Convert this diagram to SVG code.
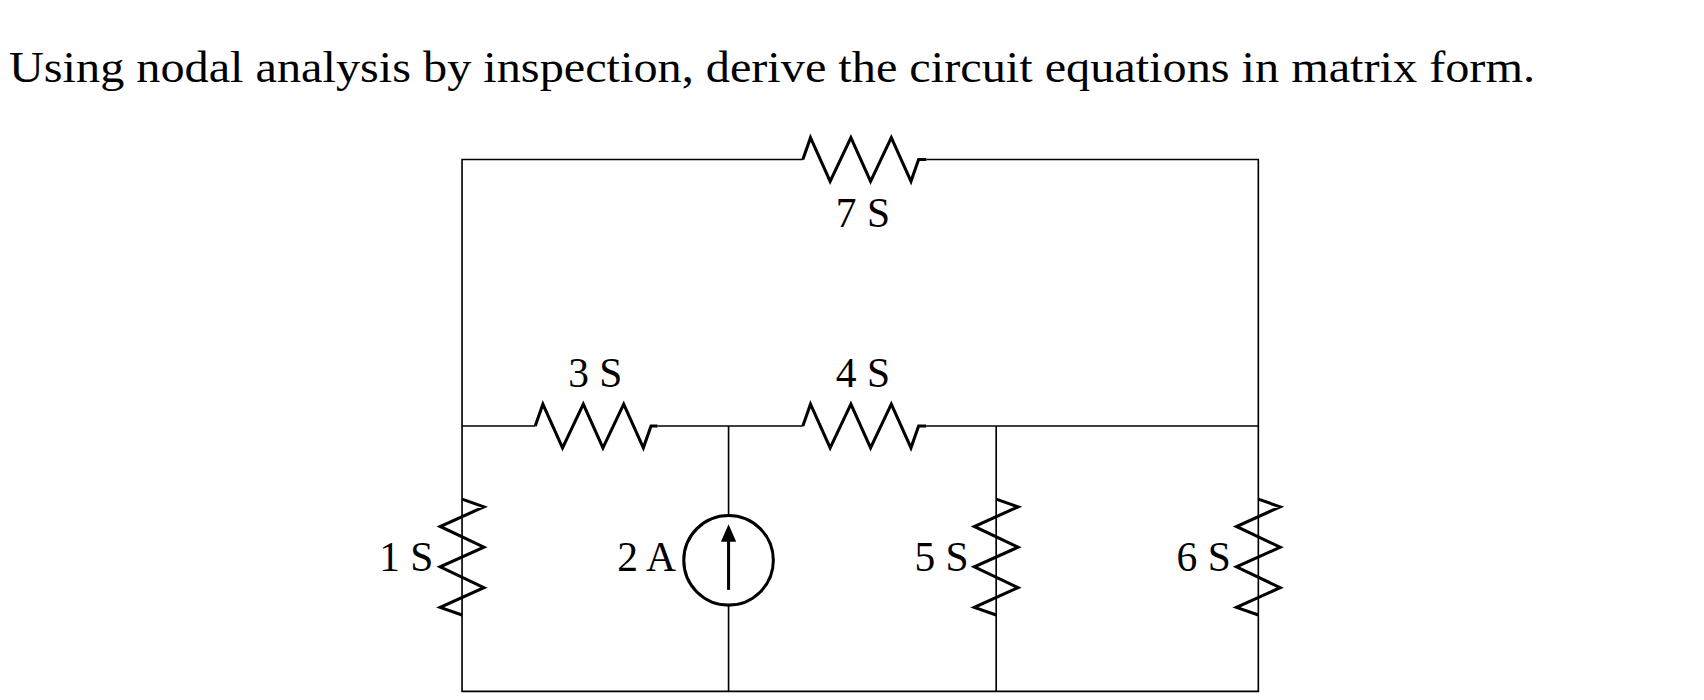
<svg xmlns="http://www.w3.org/2000/svg" width="1704" height="700" viewBox="0 0 1704 700">
<style>
.w{fill:none;stroke:#000;stroke-width:1.5}
.r{fill:none;stroke:#000;stroke-width:2.8;stroke-linejoin:miter}
text{font-family:"Liberation Serif",serif;fill:#000}
.l{font-size:38px;text-anchor:middle}
</style>
<rect width="1704" height="700" fill="#fff"/>
<text x="9" y="82" font-size="45" textLength="1526" lengthAdjust="spacingAndGlyphs">Using nodal analysis by inspection, derive the circuit equations in matrix form.</text>
<g transform="scale(1.0923)">
<g id="connectors">
<path class="w" d="M735 146H423V633H1152V146H848"/>
<path class="w" d="M423 390H490M602 390H735M848 390H1152M667 390V472M667 554V633M912 390V633"/>
</g>
<g id="r7"><path class="r" d="M735 146L742 126L760 166L779 126L797 166L816 126L834 166L841 146H848"/><text class="l" x="790" y="208">7 S</text></g>
<g id="r3"><path class="r" d="M490 390L497 370L515 410L534 370L552 410L571 370L589 410L596 390H602"/><text class="l" x="545" y="354">3 S</text></g>
<g id="r4"><path class="r" d="M735 390L742 370L760 410L779 370L797 410L816 370L834 410L841 390H848"/><text class="l" x="790" y="354">4 S</text></g>
<g id="r1"><path class="r" d="M423 457L443 464L403 482L443 501L403 519L443 538L403 556L423 563"/><text class="l" x="372" y="523">1 S</text></g>
<g id="r5"><path class="r" d="M912 457L932 464L892 482L932 501L892 519L932 538L892 556L912 563"/><text class="l" x="862" y="523">5 S</text></g>
<g id="r6"><path class="r" d="M1152 457L1172 464L1132 482L1172 501L1132 519L1172 538L1132 556L1152 563"/><text class="l" x="1102" y="523">6 S</text></g>
<g id="src"><circle cx="667" cy="513" r="41" fill="#fff" stroke="#000" stroke-width="2.8"/><path d="M667 540V494" stroke="#000" stroke-width="2.8"/><path d="M667 480L660 496H674Z"/><text class="l" x="592" y="523">2 A</text></g>
</g>
</svg>
